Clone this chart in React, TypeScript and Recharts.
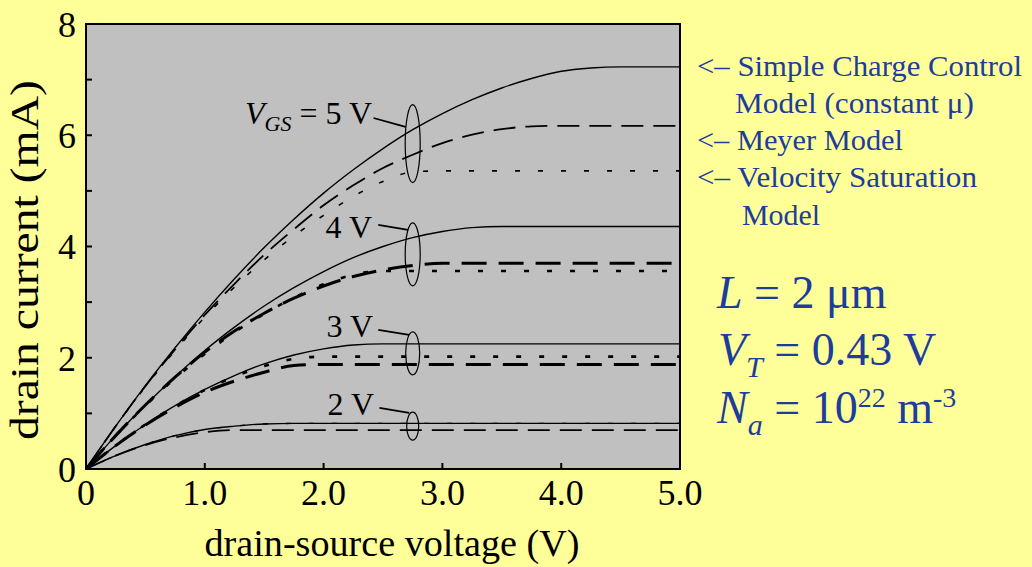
import {
  CartesianGrid,
  Line,
  LineChart,
  ReferenceArea,
  ReferenceDot,
  ReferenceLine,
  XAxis,
  YAxis,
} from "recharts";

// drain-source voltage (V)
const vds = [0, 0.25, 0.5, 0.75, 1, 1.25, 1.5, 1.75, 2, 2.25, 2.5, 2.75, 3, 3.25, 3.5, 3.75, 4, 4.25, 4.5, 4.75, 5];

// drain current (mA): s = simple charge control, m = Meyer, v = velocity saturation
const s5 = [0, 0.77, 1.5, 2.18, 2.82, 3.42, 3.98, 4.49, 4.96, 5.38, 5.76, 6.1, 6.39, 6.64, 6.85, 7.02, 7.15, 7.21, 7.23, 7.23, 7.23];
const m5 = [0, 0.77, 1.49, 2.15, 2.77, 3.33, 3.85, 4.31, 4.74, 5.1, 5.41, 5.65, 5.86, 6.01, 6.11, 6.16, 6.17, 6.17, 6.17, 6.17, 6.17];
const v5 = [0, 0.77, 1.48, 2.13, 2.73, 3.27, 3.76, 4.19, 4.56, 4.9, 5.17, 5.34, 5.36, 5.36, 5.36, 5.36, 5.36, 5.36, 5.36, 5.36, 5.36];
const s4 = [0, 0.6, 1.15, 1.66, 2.13, 2.55, 2.93, 3.26, 3.55, 3.8, 4.0, 4.16, 4.27, 4.34, 4.36, 4.36, 4.36, 4.36, 4.36, 4.36, 4.36];
const m4 = [0, 0.6, 1.15, 1.65, 2.1, 2.48, 2.8, 3.07, 3.29, 3.46, 3.58, 3.66, 3.7, 3.7, 3.7, 3.7, 3.7, 3.7, 3.7, 3.7, 3.7];
const v4 = [0, 0.6, 1.14, 1.63, 2.07, 2.46, 2.79, 3.08, 3.32, 3.49, 3.56, 3.56, 3.56, 3.56, 3.56, 3.56, 3.56, 3.56, 3.56, 3.56, 3.56];
const s3 = [0, 0.42, 0.8, 1.14, 1.43, 1.68, 1.89, 2.05, 2.16, 2.23, 2.25, 2.25, 2.25, 2.25, 2.25, 2.25, 2.25, 2.25, 2.25, 2.25, 2.25];
const m3 = [0, 0.42, 0.79, 1.11, 1.38, 1.58, 1.74, 1.86, 1.88, 1.88, 1.88, 1.88, 1.88, 1.88, 1.88, 1.88, 1.88, 1.88, 1.88, 1.88, 1.88];
const v3 = [0, 0.42, 0.8, 1.13, 1.42, 1.66, 1.85, 1.98, 2.02, 2.02, 2.02, 2.02, 2.02, 2.02, 2.02, 2.02, 2.02, 2.02, 2.02, 2.02, 2.02];
const s2 = [0, 0.24, 0.44, 0.6, 0.71, 0.77, 0.81, 0.82, 0.82, 0.82, 0.82, 0.82, 0.82, 0.82, 0.82, 0.82, 0.82, 0.82, 0.82, 0.82, 0.82];
const m2 = [0, 0.24, 0.43, 0.57, 0.66, 0.7, 0.7, 0.7, 0.7, 0.7, 0.7, 0.7, 0.7, 0.7, 0.7, 0.7, 0.7, 0.7, 0.7, 0.7, 0.7];
// 2 V velocity-saturation curve is not distinguishable from the solid one in the figure
const v2 = [0, 0.24, 0.44, 0.6, 0.71, 0.77, 0.81, 0.82, 0.82, 0.82, 0.82, 0.82, 0.82, 0.82, 0.82, 0.82, 0.82, 0.82, 0.82, 0.82, 0.82];

const xTicks = [0, 1, 2, 3, 4, 5];
const xTickLabels = ["0", "1.0", "2.0", "3.0", "4.0", "5.0"];
const yTicks = [0, 1, 2, 3, 4, 5, 6, 7, 8];

// group ellipses at Vds = 2.75 V: centre current, half sizes (px), pointer ends
const groups = [
  { y: 5.85, rx: 7.5, ry: 39, p1: [2.42, 6.31], p2: [2.69, 6.15] },
  { y: 3.86, rx: 7.5, ry: 31.5, p1: [2.46, 4.39], p2: [2.71, 4.3] },
  { y: 2.08, rx: 7, ry: 21.5, p1: [2.46, 2.5], p2: [2.72, 2.41] },
  { y: 0.77, rx: 6, ry: 14, p1: [2.47, 1.1], p2: [2.72, 1.01] },
];

const data = vds.map((v, i) => ({
  v,
  s5: s5[i], m5: m5[i], v5: v5[i],
  s4: s4[i], m4: m4[i], v4: v4[i],
  s3: s3[i], m3: m3[i], v3: v3[i],
  s2: s2[i], m2: m2[i], v2: v2[i],
}));

const series = [
  { key: "v2", dash: "5 18", w: 1.4 },
  { key: "s5", dash: undefined, w: 1.4 },
  { key: "m5", dash: "22 10", w: 1.8 },
  { key: "v5", dash: "5 18", w: 1.6 },
  { key: "s4", dash: undefined, w: 1.4 },
  { key: "m4", dash: "25 12", w: 3 },
  { key: "v4", dash: "5 18", w: 2.6 },
  { key: "s3", dash: undefined, w: 1.4 },
  { key: "m3", dash: "25 12", w: 3 },
  { key: "v3", dash: "5 18", w: 2.6 },
  { key: "s2", dash: undefined, w: 1.4 },
  { key: "m2", dash: "22 10", w: 1.8 },
];

const serif = "'Liberation Serif', 'Times New Roman', serif";
const blue = "#1d3d9d";

const Ellipse = (rx: number, ry: number) => (props: any) => (
  <ellipse cx={props.cx} cy={props.cy} rx={rx} ry={ry} fill="none" stroke="#000" strokeWidth={1.2} />
);

export default function App() {
  return (
    <div style={{ position: "absolute", left: 0, top: 0, width: 1032, height: 567, background: "#FFFF99", overflow: "hidden" }}>
      <LineChart
        width={1032}
        height={567}
        data={data}
        margin={{ top: 24, right: 352, left: 26, bottom: 48 }}
      >
        <CartesianGrid horizontal={false} vertical={false} fill="#C0C0C0" />
        <XAxis
          dataKey="v"
          type="number"
          domain={[0, 5]}
          ticks={xTicks}
          tickFormatter={(t: number) => xTickLabels[xTicks.indexOf(t)]}
          height={50}
          tickSize={-6}
          tickMargin={16}
          axisLine={{ stroke: "#000", strokeWidth: 2 }}
          tickLine={{ stroke: "#000", strokeWidth: 2 }}
          tick={{ fontFamily: serif, fontSize: 36, fill: "#000" }}
        />
        <YAxis
          type="number"
          domain={[0, 8]}
          ticks={yTicks}
          interval={0}
          tickFormatter={(t: number) => (t % 2 === 0 ? String(t) : "")}
          width={60}
          tickSize={-6}
          tickMargin={16}
          axisLine={{ stroke: "#000", strokeWidth: 2 }}
          tickLine={{ stroke: "#000", strokeWidth: 2 }}
          tick={{ fontFamily: serif, fontSize: 36, fill: "#000" }}
        />
        <ReferenceArea x1={0} x2={5} y1={0} y2={8} fill="none" stroke="#000" strokeWidth={2} />
        {series.map((s) => (
          <Line
            key={s.key}
            dataKey={s.key}
            type="monotone"
            stroke="#000"
            strokeWidth={s.w}
            strokeDasharray={s.dash}
            dot={false}
            isAnimationActive={false}
          />
        ))}
        {groups.map((g, i) => (
          <ReferenceDot key={"e" + i} x={2.75} y={g.y} shape={Ellipse(g.rx, g.ry)} />
        ))}
        {groups.map((g, i) => (
          <ReferenceLine
            key={"p" + i}
            segment={[
              { x: g.p1[0], y: g.p1[1] },
              { x: g.p2[0], y: g.p2[1] },
            ]}
            stroke="#000"
            strokeWidth={1.8}
          />
        ))}
      </LineChart>
      <svg
        width={1032}
        height={567}
        style={{ position: "absolute", left: 0, top: 0, pointerEvents: "none" }}
      >
        <g style={{ fontFamily: serif }} fill="#000">
          <text x={392} y={556} fontSize={38} textAnchor="middle" textLength={375} lengthAdjust="spacingAndGlyphs">
            drain-source voltage (V)
          </text>
          <text
            x={0}
            y={0}
            fontSize={40}
            textAnchor="middle"
            textLength={360}
            lengthAdjust="spacingAndGlyphs"
            transform="translate(38 260) rotate(-90)"
          >
            drain current (mA)
          </text>
          <text x={372} y={124} fontSize={32} textAnchor="end">
            <tspan fontStyle="italic">V</tspan>
            <tspan fontStyle="italic" fontSize={22} dy={7}>GS</tspan>
            <tspan dy={-7}> = 5 V</tspan>
          </text>
          <text x={372} y={238} fontSize={32} textAnchor="end">4 V</text>
          <text x={373} y={337} fontSize={32} textAnchor="end">3 V</text>
          <text x={374} y={415} fontSize={32} textAnchor="end">2 V</text>
        </g>
        <g style={{ fontFamily: serif }} fill={blue} fontSize={30}>
          <text x={697} y={76} textLength={325} lengthAdjust="spacingAndGlyphs">&lt;– Simple Charge Control</text>
          <text x={735} y={113} textLength={239} lengthAdjust="spacingAndGlyphs">Model (constant μ)</text>
          <text x={697} y={150} textLength={206} lengthAdjust="spacingAndGlyphs">&lt;– Meyer Model</text>
          <text x={697} y={187} textLength={280} lengthAdjust="spacingAndGlyphs">&lt;– Velocity Saturation</text>
          <text x={742} y={225} textLength={78} lengthAdjust="spacingAndGlyphs">Model</text>
        </g>
        <g style={{ fontFamily: serif }} fill={blue} fontSize={46}>
          <text x={717} y={308}>
            <tspan fontStyle="italic">L</tspan>
            <tspan> = 2 μm</tspan>
          </text>
          <text x={718} y={365}>
            <tspan fontStyle="italic">V</tspan>
            <tspan fontStyle="italic" fontSize={30} dy={12}>T</tspan>
            <tspan dy={-12}> = 0.43 V</tspan>
          </text>
          <text x={717} y={423}>
            <tspan fontStyle="italic">N</tspan>
            <tspan fontStyle="italic" fontSize={30} dy={12}>a</tspan>
            <tspan dy={-12}> = 10</tspan>
            <tspan fontSize={28} dy={-16}>22</tspan>
            <tspan dy={16}> m</tspan>
            <tspan fontSize={28} dy={-16}>-3</tspan>
          </text>
        </g>
      </svg>
    </div>
  );
}
